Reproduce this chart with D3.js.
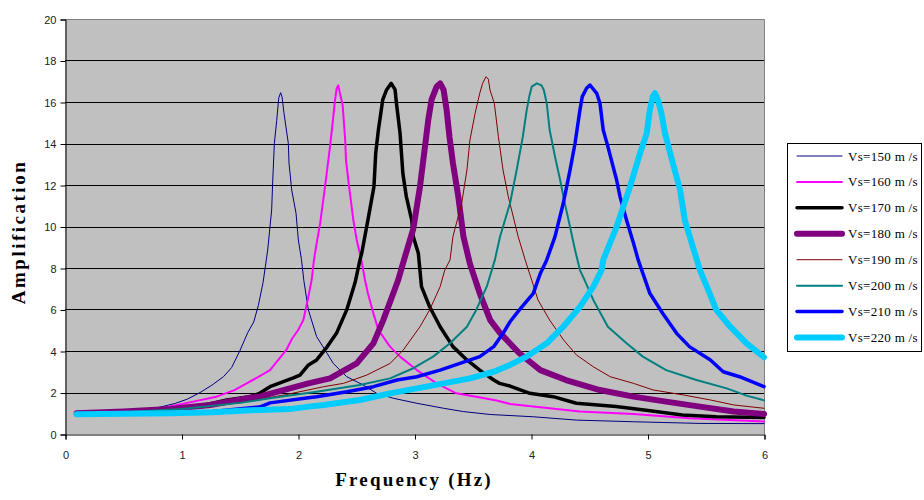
<!DOCTYPE html>
<html>
<head>
<meta charset="utf-8">
<script src="https://cdn.jsdelivr.net/npm/d3@7"></script>
<style>
  html, body { margin: 0; padding: 0; background: #ffffff; }
  svg { display: block; }
</style>
</head>
<body>
<svg id="chart" width="924" height="500"></svg>
<script>
// ---------------- DATA ----------------
const seriesNames = ["Vs=150 m /s", "Vs=160 m /s", "Vs=170 m /s", "Vs=180 m /s",
                     "Vs=190 m /s", "Vs=200 m /s", "Vs=210 m /s", "Vs=220 m /s"];
const xTicks = [0, 1, 2, 3, 4, 5, 6];
const yTicks = [0, 2, 4, 6, 8, 10, 12, 14, 16, 18, 20];

// [frequency (Hz), amplification]
const vs150 = [[0.1,1.0],[0.3,1.02],[0.5,1.05],[0.7,1.15],[0.82,1.3],[0.95,1.48],[1.05,1.68],[1.16,2.0],[1.26,2.35],[1.36,2.76],[1.43,3.2],[1.5,4.0],[1.57,4.9],[1.62,5.4],[1.66,6.2],[1.70,7.3],[1.74,8.87],[1.774,10.8],[1.783,12.2],[1.797,14.0],[1.817,15.1],[1.835,16.2],[1.851,16.45],[1.863,16.25],[1.88,15.45],[1.917,14.0],[1.923,13.05],[1.946,11.76],[1.983,10.64],[2.003,9.35],[2.03,8.4],[2.05,7.4],[2.089,5.98],[2.16,4.69],[2.232,4.05],[2.303,3.4],[2.418,2.76],[2.56,2.36],[2.676,1.96],[2.82,1.72],[3.02,1.48],[3.25,1.24],[3.42,1.08],[3.65,0.94],[4.02,0.83],[4.39,0.67],[4.88,0.59],[5.45,0.51],[6.0,0.5]];
const vs160 = [[0.1,1.0],[0.5,1.05],[0.8,1.2],[1.1,1.56],[1.3,1.8],[1.45,2.1],[1.56,2.44],[1.66,2.75],[1.76,3.08],[1.82,3.5],[1.9,4.05],[1.95,4.6],[2.0,5.0],[2.046,5.49],[2.085,6.5],[2.117,7.42],[2.137,8.39],[2.16,9.19],[2.19,10.15],[2.232,11.92],[2.275,13.85],[2.303,15.29],[2.318,16.1],[2.332,16.66],[2.346,16.8],[2.36,16.42],[2.383,15.86],[2.405,14.17],[2.412,13.2],[2.432,12.24],[2.446,11.6],[2.475,10.31],[2.504,9.35],[2.547,8.3],[2.575,7.42],[2.6,6.78],[2.647,5.82],[2.69,5.01],[2.79,4.21],[2.876,3.73],[3.02,3.08],[3.19,2.44],[3.36,1.96],[3.53,1.8],[3.705,1.61],[3.82,1.45],[4.16,1.24],[4.42,1.08],[4.88,0.96],[5.36,0.76],[6.0,0.6]];
const vs170 = [[0.1,1.0],[0.5,1.05],[0.9,1.2],[1.2,1.4],[1.39,1.64],[1.588,1.8],[1.67,1.96],[1.76,2.28],[1.96,2.7],[2.017,2.84],[2.09,3.33],[2.16,3.57],[2.25,4.2],[2.33,4.85],[2.418,5.98],[2.49,7.3],[2.532,8.39],[2.547,8.71],[2.6,10.31],[2.652,11.92],[2.667,13.53],[2.69,14.65],[2.727,16.1],[2.76,16.58],[2.80,16.9],[2.833,16.6],[2.845,15.94],[2.876,14.5],[2.9,12.56],[2.93,11.44],[2.976,10.31],[2.99,9.5],[3.033,8.71],[3.06,7.1],[3.13,6.13],[3.22,5.17],[3.33,4.21],[3.45,3.57],[3.56,3.08],[3.68,2.6],[3.73,2.44],[3.82,2.31],[3.99,1.96],[4.19,1.8],[4.39,1.48],[4.73,1.32],[5.02,1.12],[5.3,0.92],[5.59,0.83],[6.0,0.8]];
const vs180 = [[0.1,1.0],[0.5,1.08],[0.9,1.2],[1.245,1.4],[1.588,1.75],[1.67,1.8],[1.93,2.2],[2.09,2.44],[2.275,2.68],[2.504,3.4],[2.647,4.37],[2.732,5.49],[2.818,6.78],[2.86,7.42],[2.91,8.39],[2.99,9.9],[3.047,11.92],[3.09,13.85],[3.118,15.13],[3.146,16.1],[3.19,16.74],[3.22,16.9],[3.25,16.58],[3.276,15.61],[3.3,14.33],[3.33,13.05],[3.376,11.44],[3.42,9.51],[3.476,8.2],[3.56,6.78],[3.65,5.49],[3.73,4.9],[3.9,3.89],[4.08,3.08],[4.3,2.6],[4.59,2.12],[4.88,1.8],[5.16,1.56],[5.45,1.32],[5.74,1.08],[6.0,0.96]];
const vs190 = [[0.1,1.0],[0.5,1.05],[1.0,1.2],[1.5,1.5],[1.9,1.9],[2.22,2.28],[2.39,2.44],[2.59,2.84],[2.79,3.4],[2.904,4.05],[3.047,5.17],[3.13,5.98],[3.22,7.1],[3.26,7.9],[3.305,8.39],[3.33,9.51],[3.405,11.12],[3.45,12.72],[3.476,14.17],[3.52,15.45],[3.56,16.42],[3.585,16.9],[3.614,17.22],[3.634,17.1],[3.648,16.58],[3.685,15.94],[3.72,14.33],[3.76,12.72],[3.805,11.44],[3.89,9.51],[3.95,8.39],[4.006,7.42],[4.06,6.46],[4.16,5.49],[4.28,4.53],[4.39,3.81],[4.535,3.24],[4.68,2.76],[4.88,2.44],[5.05,2.12],[5.31,1.88],[5.54,1.64],[5.74,1.4],[6.0,1.24]];
const vs200 = [[0.1,1.0],[0.5,1.05],[1.0,1.2],[1.5,1.5],[1.76,1.72],[2.16,2.04],[2.53,2.36],[2.79,2.68],[2.99,3.17],[3.16,3.73],[3.305,4.37],[3.45,5.17],[3.53,5.98],[3.62,7.1],[3.69,8.39],[3.734,9.51],[3.82,11.12],[3.877,12.72],[3.93,14.33],[3.963,15.61],[3.985,16.26],[4.006,16.74],[4.05,16.9],[4.09,16.8],[4.11,16.58],[4.135,15.94],[4.16,14.65],[4.206,13.37],[4.25,12.24],[4.29,11.12],[4.335,9.99],[4.378,8.87],[4.42,7.9],[4.46,7.42],[4.535,6.46],[4.66,5.17],[4.82,4.37],[4.96,3.73],[5.16,3.08],[5.42,2.6],[5.68,2.2],[5.85,1.85],[6.0,1.62]];
const vs210 = [[0.1,1.0],[0.5,0.97],[0.9,0.97],[1.27,1.08],[1.67,1.3],[1.76,1.5],[2.09,1.75],[2.16,1.8],[2.42,2.04],[2.647,2.28],[2.85,2.6],[3.02,2.76],[3.22,3.08],[3.39,3.4],[3.56,3.73],[3.68,4.21],[3.76,4.85],[3.82,5.41],[3.9,5.98],[4.02,6.78],[4.08,7.74],[4.135,8.39],[4.206,9.51],[4.277,11.12],[4.335,12.72],[4.378,14.01],[4.42,15.61],[4.44,16.26],[4.477,16.66],[4.506,16.82],[4.564,16.42],[4.592,15.94],[4.62,14.65],[4.66,13.85],[4.69,13.2],[4.735,12.24],[4.764,11.44],[4.82,10.31],[4.88,9.19],[4.92,8.39],[5.02,6.78],[5.13,5.82],[5.25,4.85],[5.36,4.21],[5.54,3.57],[5.65,3.0],[5.79,2.76],[6.0,2.28]];
const vs220 = [[0.1,0.95],[0.5,0.97],[0.9,1.0],[1.27,1.05],[1.67,1.16],[1.93,1.2],[2.09,1.32],[2.22,1.4],[2.53,1.64],[2.79,1.96],[3.02,2.2],[3.25,2.44],[3.476,2.68],[3.68,3.0],[3.82,3.33],[3.963,3.73],[4.135,4.37],[4.277,5.17],[4.42,6.13],[4.535,7.1],[4.606,7.9],[4.62,8.39],[4.735,9.99],[4.85,11.92],[4.936,13.53],[4.993,14.49],[5.02,15.61],[5.045,16.26],[5.064,16.42],[5.09,16.1],[5.12,15.45],[5.15,14.49],[5.21,13.2],[5.28,11.76],[5.32,10.31],[5.38,9.19],[5.45,7.9],[5.51,7.1],[5.59,5.98],[5.71,5.17],[5.85,4.37],[6.0,3.7]];

const seriesData = [vs150, vs160, vs170, vs180, vs190, vs200, vs210, vs220];
const seriesColors = ["#000080", "#FF00FF", "#000000", "#800080", "#800000", "#008080", "#0000FF", "#00CCFF"];
const seriesWidths = [1, 2, 3.5, 6, 1, 2, 3.5, 6];

// ---------------- LAYOUT ----------------
const svg = d3.select("#chart");
const plot = { left: 65, top: 19, right: 764, bottom: 434 };

const x = d3.scaleLinear().domain([0, 6]).range([plot.left, plot.right]);
const y = d3.scaleLinear().domain([0, 20]).range([plot.bottom, plot.top]);

// Plot background
svg.append("rect")
  .attr("x", plot.left).attr("y", plot.top)
  .attr("width", plot.right - plot.left).attr("height", plot.bottom - plot.top)
  .attr("fill", "#C0C0C0");

// Gridlines
svg.append("g").selectAll("line")
  .data(yTicks.filter(d => d > 0 && d < 20))
  .join("line")
  .attr("x1", plot.left).attr("x2", plot.right)
  .attr("y1", d => Math.round(y(d)) + 0.5).attr("y2", d => Math.round(y(d)) + 0.5)
  .attr("stroke", "#000").attr("stroke-width", 1);

// Top & right border (gray)
svg.append("path")
  .attr("d", `M${plot.left},${plot.top + 0.5}H${plot.right + 0.5}V${plot.bottom}`)
  .attr("fill", "none").attr("stroke", "#808080").attr("stroke-width", 1);

// Axes
const yAxis = d3.axisLeft(y).tickValues(yTicks).tickSize(5).tickPadding(4).tickFormat(d3.format("d"));
const gy = svg.append("g").attr("transform", `translate(${plot.left + 0.5},0.5)`).call(yAxis);
gy.select(".domain").attr("stroke", "#000");
gy.selectAll(".tick line").attr("stroke", "#000");
gy.selectAll("text").attr("font-family", "Liberation Sans, Arial, sans-serif").attr("font-size", 11).attr("fill", "#222");

const xAxis = d3.axisBottom(x).tickValues(xTicks).tickSize(5).tickPadding(12).tickFormat(d3.format("d"));
const gx = svg.append("g").attr("transform", `translate(0.5,${plot.bottom + 0.5})`).call(xAxis);
gx.select(".domain").attr("stroke", "#000");
gx.selectAll(".tick line").attr("stroke", "#000");
gx.selectAll("text").attr("font-family", "Liberation Sans, Arial, sans-serif").attr("font-size", 11).attr("fill", "#222");

// Series lines
const line = d3.line().x(d => x(d[0])).y(d => y(d[1]));
svg.append("g").selectAll("path")
  .data(seriesData)
  .join("path")
  .attr("d", d => line(d))
  .attr("fill", "none")
  .attr("stroke", (d, i) => seriesColors[i])
  .attr("stroke-width", (d, i) => seriesWidths[i])
  .attr("stroke-linejoin", "round")
  .attr("stroke-linecap", "round");

// Axis titles
svg.append("text")
  .attr("x", 414).attr("y", 486)
  .attr("text-anchor", "middle")
  .attr("font-family", "Liberation Serif, Times New Roman, serif")
  .attr("font-weight", "bold").attr("font-size", 19)
  .attr("letter-spacing", 2.2)
  .text("Frequency (Hz)");

svg.append("text")
  .attr("transform", "translate(25,232) rotate(-90)")
  .attr("text-anchor", "middle")
  .attr("font-family", "Liberation Serif, Times New Roman, serif")
  .attr("font-weight", "bold").attr("font-size", 19)
  .attr("letter-spacing", 2.5)
  .text("Amplification");

// Legend
const legend = svg.append("g");
legend.append("rect")
  .attr("x", 787.5).attr("y", 143.5).attr("width", 134).attr("height", 208)
  .attr("fill", "#fff").attr("stroke", "#000").attr("stroke-width", 1);
const rowY = d3.scaleLinear().domain([0, 7]).range([156, 337.5]);
const rows = legend.selectAll("g.row").data(seriesNames).join("g").attr("class", "row");
rows.append("line")
  .attr("x1", 797).attr("x2", 842)
  .attr("y1", (d, i) => rowY(i)).attr("y2", (d, i) => rowY(i))
  .attr("stroke", (d, i) => seriesColors[i])
  .attr("stroke-width", (d, i) => seriesWidths[i])
  .attr("stroke-linecap", "round");
rows.append("text")
  .attr("x", 848).attr("y", (d, i) => rowY(i) + 4.5)
  .attr("font-family", "Liberation Serif, Times New Roman, serif")
  .attr("font-size", 13).attr("letter-spacing", 0.3)
  .attr("fill", "#000")
  .text(d => d);
</script>
</body>
</html>
